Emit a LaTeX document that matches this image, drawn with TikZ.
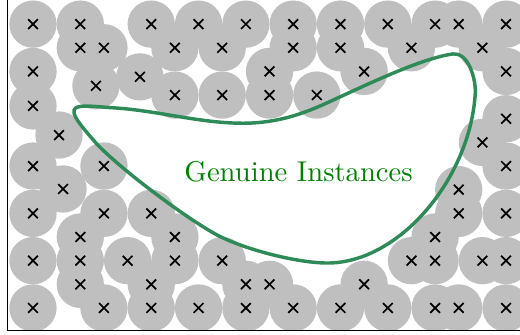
\documentclass[tikz,border=0pt]{standalone}
\usetikzlibrary{shapes.misc}
\definecolor{boundary}{RGB}{46,139,87}

\begin{document}
\begin{tikzpicture}[x=0.29cm,y=0.29cm,
    cover/.style={fill=black!25},
    sample/.style={cross out,draw,line width=0.6pt,minimum size=2.8pt,inner sep=0pt}]
    \useasboundingbox (-1.395,-1.14) rectangle (20.59,13.02);
    % samples of the space
    \def\samples{(0,12),(2,12),(5,12),(7,12),(9,12),(11,12),(13,12),(15,12),(17,12),(18,12),(20,12),
        (2,11),(3,11),(6,11),(8,11),(11,11),(13,11),(16,11),(19,11),
        (0,10),(10,10),(14,10),(20,10),
        (6,9),(8,9),(10,9),(12,9),
        (2.66,9.39),(4.52,9.77),(0,8.54),(1.1,7.31),(1.27,5.03),
        (20,8),(19,7),(0,6),(3,6),(20,6),(18,5),
        (0,4),(3,4),(5,4),(18,4),(20,4),
        (2,3),(6,3),(17,3),
        (0,2),(2,2),(4,2),(6,2),(8,2),(16,2),(17,2),(19,2),(20,2),
        (2,1),(5,1),(9,1),(10,1),(14,1),
        (0,0),(3,0),(5,0),(7,0),(9,0),(11,0),(13,0),(15,0),(17,0),(18,0),(20,0)}
    \begin{scope}
        \clip (-1.08,-0.95) rectangle (21,13.5);
        \foreach \p in \samples
            \fill[cover] \p circle (1);
    \end{scope}
    \foreach \p [count=\i] in \samples
        \node[sample] (s\i) at \p {};
    \draw (-1.08,-0.95) rectangle (21,13.5);
    % genuine region
    \draw[boundary,line width=1.2pt] (1.8,8.45)
        .. controls (2.0,8.6) and (2.6,8.52) .. (3.26,8.47)
        .. controls (5.2,8.37) and (7.0,7.81) .. (8.88,7.81)
        .. controls (10.3,7.81) and (11.4,8.2) .. (12.43,8.67)
        .. controls (14.2,9.48) and (16.4,10.55) .. (17.76,10.74)
        .. controls (18.35,10.82) and (18.72,9.8) .. (18.7,9.1)
        .. controls (18.5,5.5) and (15.5,1.9) .. (12.45,1.9)
        .. controls (11.2,1.9) and (9.0,2.45) .. (7.77,3.09)
        .. controls (6.2,3.96) and (3.32,6.18) .. (2.55,7.1)
        .. controls (2.0,7.75) and (1.55,8.25) .. cycle;
    \node[text=green!50!black] (label) at (11.23,5.75) {Genuine Instances};
\end{tikzpicture}
\end{document}
